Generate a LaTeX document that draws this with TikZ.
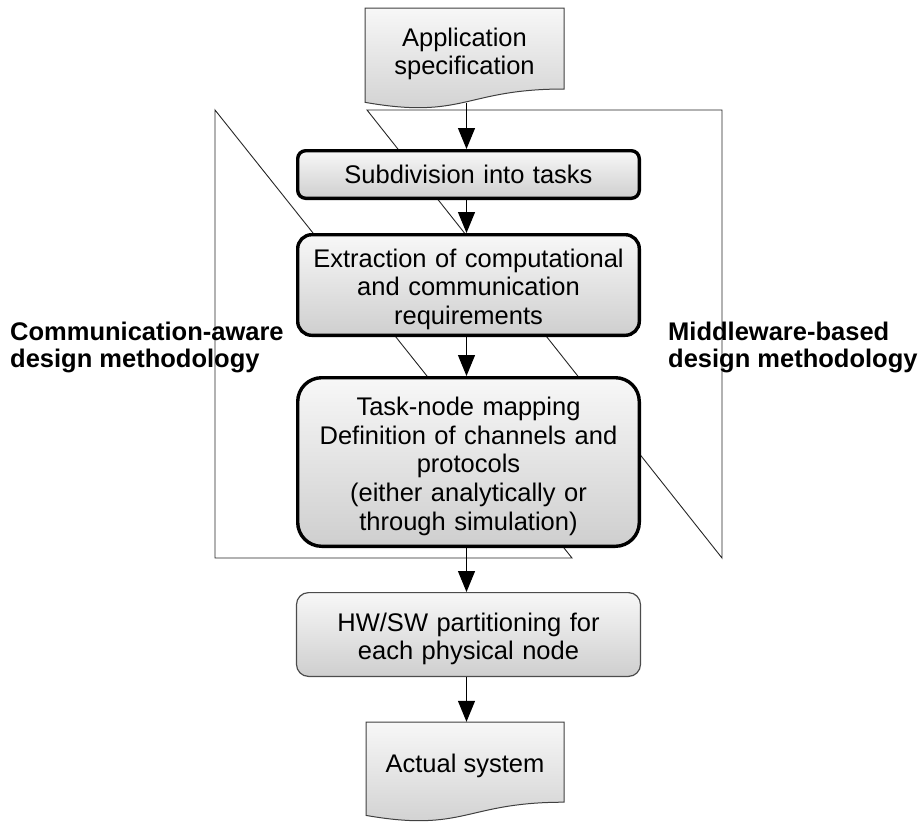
\documentclass[tikz,border=0pt]{standalone}
\usepackage{fontspec}
\setmainfont{Liberation Sans}
\usetikzlibrary{arrows.meta,calc}

% flowchart "document" symbol: flat top, wavy bottom edge
\newcommand\docshape[4]{%
  \draw[docline] (#1,#2) -- (#1+#3,#2) -- (#1+#3,#2+0.802*#4)
    .. controls (#1+0.5*#3,#2+0.802*#4) and (#1+0.5*#3,#2+1.107*#4) .. (#1,#2+0.934*#4) -- cycle;}
% taller first line, so texts sit a little lower in their boxes
\newcommand\firstline{\rule{0pt}{27pt}}

\begin{document}
\begin{tikzpicture}[x=1pt,y=-1pt,
  boxtext/.style={font=\fontsize{25.5}{28.6}\selectfont, align=center},
  flowbox/.style={boxtext, draw=black, line width=3.4pt,
    top color=white!97!black, bottom color=black!19,
    minimum width=341.6pt, text width=335pt, inner sep=0pt},
  softbox/.style={boxtext, draw=black!70, line width=1.2pt,
    top color=white!97!black, bottom color=black!19,
    minimum width=344pt, text width=335pt, inner sep=0pt},
  docline/.style={draw=black!75, line width=1pt,
    top color=white!97!black, bottom color=black!19},
  doctext/.style={boxtext, inner sep=0pt, minimum width=190pt},
  wedge/.style={draw=black!85, line width=0.9pt},
  flow/.style={line width=1.2pt, -{Triangle[length=21pt,width=17pt]}},
  methodlabel/.style={font=\bfseries\fontsize{25.5}{27}\selectfont, align=left, inner sep=0pt, anchor=west}
]
\useasboundingbox (0,0) rectangle (922,823);

% the two methodology wedges
\draw[wedge] (215,110) -- (215,558) -- (572,558) -- cycle;
\draw[wedge] (367,110) -- (722,110) -- (722,558) -- cycle;

% labels of the two methodologies
\node[methodlabel] (commlabel) at (10,347) {Communication-aware\\design methodology};
\node[methodlabel] (midlabel) at (668,347) {Middleware-based\\design methodology};

% input and output documents
\docshape{365}{8}{199}{101}
\node[doctext] (spec) at (464.5,54) {Application\\specification};
\coordinate (specwave) at (466.5,102.5);

\docshape{366}{722}{198}{100}
\node[doctext, minimum height=80pt] (actual) at (465,762) {\rule{0pt}{26pt}Actual system};

% process steps
\node[flowbox, rounded corners=8pt, minimum height=47.6pt] (sub) at (468.5,174.5) {Subdivision into tasks};
\node[flowbox, rounded corners=14pt, minimum height=100.6pt] (extr) at (468.5,285) {\firstline Extraction of computational\\and communication\\requirements};
\node[flowbox, rounded corners=24pt, minimum height=168.6pt] (map) at (468.5,462) {\firstline Task-node mapping\\Definition of channels and\\protocols\\(either analytically or\\through simulation)};
\node[softbox, rounded corners=12pt, minimum height=83.8pt] (hwsw) at (468.5,634.5) {\firstline HW/SW partitioning for\\each physical node};

% flow arrows
\coordinate (axis) at (466.5,0);
\draw[flow] (specwave) -- (sub.north -| axis);
\draw[flow] (sub.south -| axis) -- (extr.north -| axis);
\draw[flow] (extr.south -| axis) -- (map.north -| axis);
\draw[flow] (map.south -| axis) -- (hwsw.north -| axis);
\draw[flow] (hwsw.south -| axis) -- (actual.north -| axis);
\end{tikzpicture}
\end{document}
